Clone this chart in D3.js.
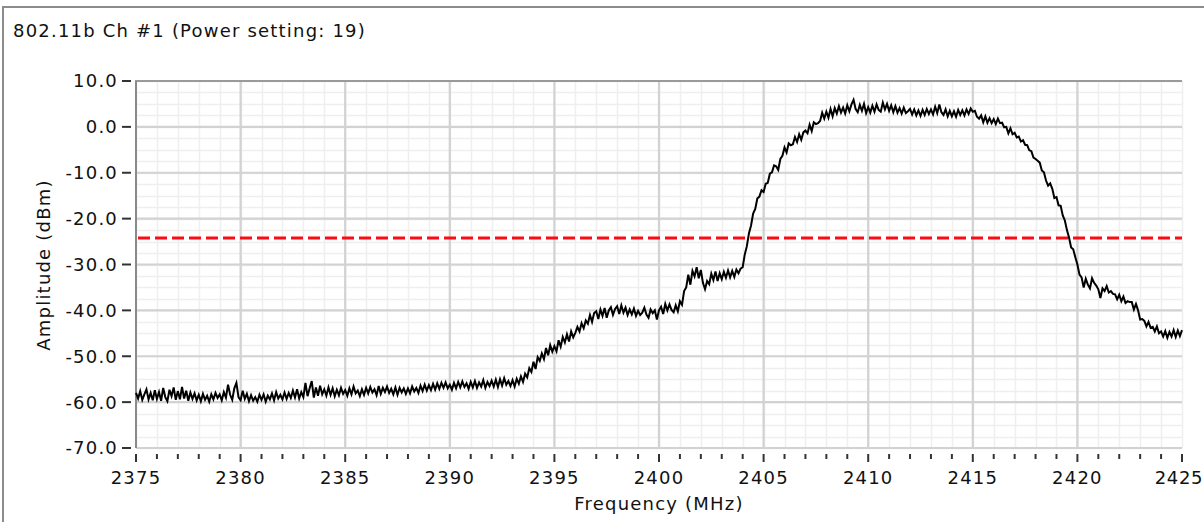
<!DOCTYPE html>
<html>
<head>
<meta charset="utf-8">
<script src="https://cdn.jsdelivr.net/npm/d3@7"></script>
<style>
  html, body { margin: 0; padding: 0; background: #fff; }
  svg text { font-family: "DejaVu Sans", Verdana, sans-serif; font-size: 18px; letter-spacing: 1.2px; fill: #111; }
</style>
</head>
<body>
<svg id="chart" width="1204" height="522"></svg>
<script>
// chart data
var chartTitle = "802.11b Ch #1 (Power setting: 19)";
var xLabel = "Frequency (MHz)";
var yLabel = "Amplitude (dBm)";
var xTicks = [2375, 2380, 2385, 2390, 2395, 2400, 2405, 2410, 2415, 2420, 2425];
var yTicks = [10, 0, -10, -20, -30, -40, -50, -60, -70];
var threshold = -24.2;   // red dashed limit line
var freqStart = 2375;    // first sample, MHz
var freqStep = 0.1;      // sample spacing, MHz
// amplitude readings (dBm), one per 0.1 MHz, 2375.0 .. 2425.0
var amplitude = [
  -58.0, -59.2, -57.6, -59.5, -58.3, -57.2, -59.4, -58.0, -59.6, -57.4,
  -59.3, -57.8, -59.7, -56.9, -58.9, -59.8, -57.3, -58.7, -56.8, -59.5,
  -57.6, -59.4, -56.7, -59.2, -57.5, -59.7, -57.9, -59.3, -58.1, -59.6,
  -58.4, -59.8, -58.2, -59.5, -58.6, -59.9, -58.3, -59.4, -58.0, -59.1,
  -58.3, -59.6, -57.8, -59.0, -56.2, -58.4, -59.5, -57.0, -55.8, -58.9,
  -59.6, -57.5, -59.3, -58.2, -59.8, -58.5, -59.7, -58.9, -59.9, -58.4,
  -59.5, -58.3, -59.9, -58.6, -59.4, -58.1, -59.6, -57.8, -59.2, -58.4,
  -59.4, -57.9, -59.3, -58.0, -59.1, -57.5, -59.0, -57.2, -59.2, -57.8,
  -58.9, -55.8, -58.7, -57.0, -55.4, -59.0, -56.8, -58.6, -56.4, -58.3,
  -57.2, -58.6, -56.8, -58.4, -57.0, -58.7, -57.3, -58.5, -56.9, -58.2,
  -57.4, -58.6, -57.0, -58.3, -56.6, -58.1, -57.5, -58.7, -57.2, -58.4,
  -56.9, -58.1, -56.7, -57.9, -57.2, -58.5, -56.5, -58.2, -56.9, -57.8,
  -56.6, -58.0, -57.1, -58.3, -56.8, -58.4, -56.9, -57.9, -57.0, -58.2,
  -57.0, -58.1, -56.6, -57.7, -56.9, -58.0, -56.4, -57.6, -56.2, -57.5,
  -56.3, -57.4, -56.0, -57.3, -55.9, -57.1, -55.8, -56.9, -55.7, -57.0,
  -56.2, -57.3, -55.8, -57.0, -55.6, -56.8, -55.5, -56.7, -55.9, -57.1,
  -55.6, -56.8, -55.4, -56.9, -55.7, -56.6, -55.2, -56.9, -55.6, -56.5,
  -55.3, -56.6, -55.1, -56.7, -55.0, -56.4, -54.8, -56.2, -55.4, -56.5,
  -55.2, -56.6, -54.9, -56.0, -54.4, -55.6, -53.8, -54.6, -52.6, -53.4,
  -51.2, -52.8, -50.2, -51.0, -49.4, -50.6, -48.2, -49.8, -47.6, -49.0,
  -47.8, -48.9, -46.5, -47.9, -45.8, -47.0, -45.2, -46.8, -44.6, -45.9,
  -44.9, -43.6, -44.6, -42.8, -43.9, -42.2, -42.9, -41.0, -42.5, -40.6,
  -40.2, -41.9, -39.8, -41.2, -39.5, -41.6, -40.0, -39.3, -41.0, -39.7,
  -39.1, -40.8, -38.9, -40.5, -39.4, -41.0, -39.8, -40.9, -39.6, -41.2,
  -40.1, -41.0, -40.5, -39.4, -40.9, -41.6, -39.8, -40.6, -40.0, -42.0,
  -40.0, -39.2, -40.8, -38.6, -40.0, -38.7, -39.9, -40.4, -38.9, -40.2,
  -38.0, -38.8, -35.8, -35.0, -32.2, -34.4, -31.4, -32.6, -30.6, -33.0,
  -31.2, -34.0, -35.4, -33.6, -34.3, -32.0, -33.4, -31.5, -33.6, -31.9,
  -33.2, -31.6, -32.9, -31.3, -32.8, -31.4, -32.7, -31.1, -31.9, -30.9,
  -30.6, -27.8, -26.0, -23.2, -21.5, -18.9, -17.9, -15.6, -15.2, -13.8,
  -14.2, -12.4, -12.2, -10.2, -9.9, -8.4, -8.6, -9.4, -7.0, -6.3,
  -4.5, -5.6, -3.6, -4.0, -3.8, -2.2, -3.3, -1.6, -2.8, -1.2,
  -0.8, -1.4, 0.5, -0.9, 1.0, 0.6, 0.8, 1.3, 3.1, 1.8,
  3.3, 2.0, 3.9, 2.3, 4.1, 2.9, 4.5, 3.1, 4.2, 2.9,
  4.7, 3.4, 4.9, 5.9, 3.9, 3.2, 4.8, 3.5, 5.0, 3.0,
  4.3, 3.1, 4.6, 3.3, 4.9, 3.7, 3.3, 5.3, 3.8, 5.0,
  3.5, 4.7, 3.2, 4.5, 3.1, 4.1, 2.9, 4.2, 3.0, 3.4,
  3.9, 2.7, 3.8, 2.5, 3.6, 2.4, 3.7, 2.6, 3.9, 2.8,
  3.8, 2.7, 4.4, 3.0, 4.9, 3.2, 2.6, 3.8, 2.3, 3.5,
  2.3, 3.4, 2.2, 3.7, 2.6, 3.6, 2.5, 3.8, 2.8, 4.0,
  3.3, 3.5, 2.2, 1.8, 2.5, 1.0, 2.3, 0.9, 1.9, 0.8,
  1.7, 0.6, 1.8, 0.8, 0.9, -0.1, 0.0, -1.4, -0.3, -1.6,
  -1.3, -2.3, -2.1, -3.2, -2.9, -3.9, -4.0, -5.1, -5.3, -6.7,
  -7.0, -7.4, -7.8, -9.5, -9.9, -11.7, -12.8, -12.3, -13.5, -15.5,
  -15.3, -17.1, -17.2, -19.3, -20.4, -22.5, -24.1, -26.3, -26.7, -28.4,
  -30.0, -32.2, -32.8, -35.0, -33.1, -34.4, -35.2, -33.0, -34.0, -34.6,
  -35.4, -37.3, -35.2, -35.8, -34.7, -36.1, -35.8, -36.4, -36.5, -37.6,
  -36.6, -38.0, -37.0, -38.4, -38.0, -38.2, -38.2, -39.8, -38.6, -40.0,
  -42.0, -41.9, -42.3, -43.5, -42.5, -43.8, -43.6, -44.6, -43.5, -45.0,
  -44.6, -45.7, -44.5, -46.0, -44.7, -45.7, -44.3, -45.8, -44.4, -45.6,
  -44.3
];

var svg = d3.select("#chart");

// panel frame
svg.append("rect")
    .attr("x", 3).attr("y", 7)
    .attr("width", 1300).attr("height", 600)
    .attr("fill", "#fff")
    .attr("stroke", "#8c8c8c")
    .attr("stroke-width", 2);

svg.append("text")
    .attr("x", 13).attr("y", 37)
    .text(chartTitle);

var x = d3.scaleLinear().domain([2375, 2425]).range([136, 1182]);
var y = d3.scaleLinear().domain([-70, 10]).range([448, 81]);

// minor grid
var grid = svg.append("g");
grid.selectAll(".xminor")
    .data(d3.range(2375, 2426, 1))
    .enter().append("line")
    .attr("x1", function (d) { return Math.round(x(d)) + 0.5; })
    .attr("x2", function (d) { return Math.round(x(d)) + 0.5; })
    .attr("y1", y(10)).attr("y2", y(-70))
    .attr("stroke", "#efefef").attr("stroke-width", 1.5);
grid.selectAll(".yminor")
    .data(d3.range(-70, 10.1, 2.5))
    .enter().append("line")
    .attr("x1", x(2375)).attr("x2", x(2425))
    .attr("y1", function (d) { return Math.round(y(d)) + 0.5; })
    .attr("y2", function (d) { return Math.round(y(d)) + 0.5; })
    .attr("stroke", "#efefef").attr("stroke-width", 1.5);

// major grid
grid.selectAll(".xmajor")
    .data(xTicks.slice(1, -1))
    .enter().append("line")
    .attr("x1", function (d) { return x(d); })
    .attr("x2", function (d) { return x(d); })
    .attr("y1", y(10)).attr("y2", y(-70))
    .attr("stroke", "#d2d2d2").attr("stroke-width", 2.2);
grid.selectAll(".ymajor")
    .data(yTicks.slice(1))
    .enter().append("line")
    .attr("x1", x(2375)).attr("x2", x(2425))
    .attr("y1", function (d) { return y(d); })
    .attr("y2", function (d) { return y(d); })
    .attr("stroke", "#d2d2d2").attr("stroke-width", 2.2);

// plot border: top and left
svg.append("line")
    .attr("x1", x(2375) - 1).attr("x2", x(2425))
    .attr("y1", y(10)).attr("y2", y(10))
    .attr("stroke", "#9a9a9a").attr("stroke-width", 2);
svg.append("line")
    .attr("x1", x(2375)).attr("x2", x(2375))
    .attr("y1", y(10)).attr("y2", y(-70))
    .attr("stroke", "#8a8a8a").attr("stroke-width", 2);

// threshold line
svg.append("line")
    .attr("x1", x(2375) + 2).attr("x2", x(2425))
    .attr("y1", y(threshold)).attr("y2", y(threshold))
    .attr("stroke", "#ff0a14")
    .attr("stroke-width", 3)
    .attr("stroke-dasharray", "12,5");

// spectrum trace
var line = d3.line()
    .x(function (d, i) { return x(freqStart + i * freqStep); })
    .y(function (d) { return y(d); });
svg.append("path")
    .datum(amplitude)
    .attr("d", line)
    .attr("fill", "none")
    .attr("stroke", "#000")
    .attr("stroke-width", 2)
    .attr("stroke-linejoin", "miter");

// y axis ticks and labels
var yAxis = svg.append("g");
yAxis.selectAll("line")
    .data(yTicks)
    .enter().append("line")
    .attr("x1", 122).attr("x2", 131)
    .attr("y1", function (d) { return y(d); })
    .attr("y2", function (d) { return y(d); })
    .attr("stroke", "#333").attr("stroke-width", 2);
yAxis.selectAll("text")
    .data(yTicks)
    .enter().append("text")
    .attr("x", 118)
    .attr("y", function (d) { return y(d); })
    .attr("dy", "0.36em")
    .attr("text-anchor", "end")
    .text(function (d) { return d3.format(".1f")(d).replace("−", "-"); });

// x axis ticks and labels
var xAxis = svg.append("g");
xAxis.selectAll("line")
    .data(d3.range(2375, 2426, 1))
    .enter().append("line")
    .attr("x1", function (d) { return x(d); })
    .attr("x2", function (d) { return x(d); })
    .attr("y1", 454)
    .attr("y2", function (d) { return d % 5 === 0 ? 462 : 459; })
    .attr("stroke", "#333").attr("stroke-width", 2);
xAxis.selectAll("text")
    .data(xTicks)
    .enter().append("text")
    .attr("x", function (d, i) { return i === xTicks.length - 1 ? 1203 : x(d); })
    .attr("y", 484)
    .attr("text-anchor", function (d, i) { return i === xTicks.length - 1 ? "end" : "middle"; })
    .style("letter-spacing", function (d, i) { return i === xTicks.length - 1 ? "0.6px" : null; })
    .text(function (d) { return d; });

// axis titles
svg.append("text")
    .attr("x", 659).attr("y", 510)
    .attr("text-anchor", "middle")
    .text(xLabel);
svg.append("text")
    .attr("transform", "translate(50,265) rotate(-90)")
    .attr("text-anchor", "middle")
    .text(yLabel);
</script>
</body>
</html>
